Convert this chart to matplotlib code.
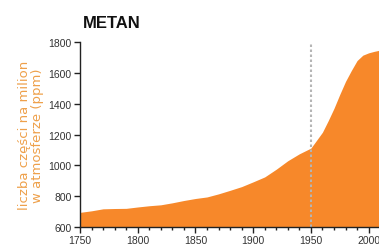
import matplotlib
matplotlib.use("Agg")
import matplotlib.pyplot as plt
from matplotlib.ticker import MultipleLocator

years = [1750, 1760, 1770, 1780, 1790, 1800, 1810, 1820, 1830, 1840, 1850,
         1860, 1870, 1880, 1890, 1900, 1910, 1920, 1930, 1940, 1950, 1960,
         1965, 1970, 1975, 1980, 1985, 1990, 1995, 2000, 2005, 2010]
methane = [695, 705, 718, 720, 721, 730, 738, 744, 757, 772, 785,
           795, 815, 838, 862, 893, 925, 975, 1030, 1075, 1112, 1215,
           1290, 1370, 1460, 1545, 1615, 1680, 1715, 1730, 1740, 1748]
xticks = [1750, 1800, 1850, 1900, 1950, 2000]
yticks = [600, 800, 1000, 1200, 1400, 1600, 1800]
marker_year = 1950

sans = ['Liberation Sans', 'DejaVu Sans']

fig = plt.figure(figsize=(3.79, 2.53), dpi=100)
ax = fig.add_axes([0.211, 0.0988, 0.789, 0.731])
ax.fill_between(years, 600, methane, color='#f7882a', linewidth=0, zorder=2)
ax.axvline(marker_year, color='#b5b5b5', linestyle=(0, (1.2, 1.2)), linewidth=1.5, zorder=3)

ax.set_xlim(1750, 2009)
ax.set_ylim(600, 1800)
ax.set_xticks(xticks)
ax.set_yticks(yticks)
ax.xaxis.set_minor_locator(MultipleLocator(10))
for s in ['top', 'right']:
    ax.spines[s].set_visible(False)
for s in ['left', 'bottom']:
    ax.spines[s].set_linewidth(1.0)
    ax.spines[s].set_color('#222222')
    ax.spines[s].set_zorder(4)
ax.tick_params(axis='both', which='major', length=4, width=1.0, color='#222222',
               labelsize=7.5, labelcolor='#333333', pad=2)
ax.tick_params(axis='x', which='minor', length=2.5, width=1.0, color='#222222')
for lab in ax.get_xticklabels() + ax.get_yticklabels():
    lab.set_family(sans)

ax.set_ylabel('liczba części na milion\nw atmosferze (ppm)', color='#eea04a',
              fontsize=9.5, family=['DejaVu Sans'],
              labelpad=3, linespacing=1.05)

fig.text(0.219, 0.909, 'METAN', fontsize=12, fontweight='bold', family=sans,
         color='#111111', va='center', ha='left')

fig.savefig('out.png', dpi=100)
